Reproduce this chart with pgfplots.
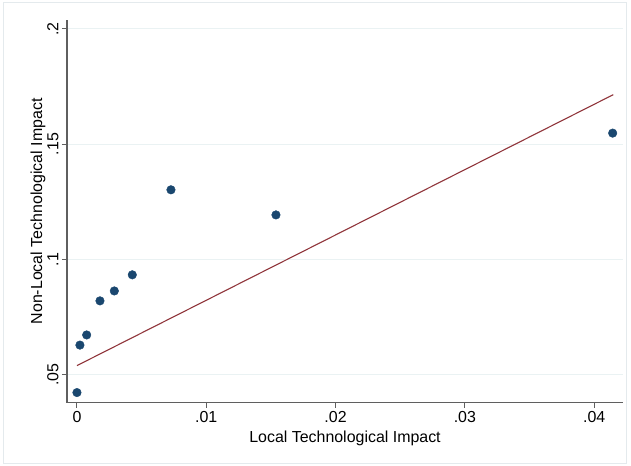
\documentclass[border=0pt]{standalone}
\usepackage{fontspec}
\setmainfont{Liberation Sans}
\usepackage{pgfplots}
\pgfplotsset{compat=1.18}
\definecolor{stnavy}{RGB}{26,71,111}
\definecolor{stmaroon}{RGB}{144,53,59}
\definecolor{stgrid}{RGB}{234,242,243}
\definecolor{staxis}{RGB}{95,95,95}
\definecolor{stframe}{RGB}{228,234,237}
\begin{document}
\begin{tikzpicture}[x=1bp,y=1bp]
\useasboundingbox (-67,-63.3) rectangle (564,402.7);
\draw[stframe, line width=1bp] (-63,-61.3) rectangle (559,399.7);
\begin{axis}[
  at={(0,0)}, anchor=south west,
  scale only axis, width=556bp, height=382.7bp,
  xmin=-0.00077, xmax=0.04223,
  ymin=0.0378, ymax=0.2039,
  scaled x ticks=false, scaled y ticks=false,
  axis x line*=bottom, axis y line*=left,
  axis line style={staxis, line width=1.2bp, -},
  every tick/.style={staxis, line width=1bp},
  tick align=outside, major tick length=5bp,
  xtick={0,0.01,0.02,0.03,0.04},
  xticklabels={0,.01,.02,.03,.04},
  ytick={0.05,0.1,0.15,0.2},
  yticklabels={.05,.1,.15,.2},
  ymajorgrids, major grid style={stgrid, line width=1bp},
  tick label style={font=\fontsize{16}{19}\selectfont},
  label style={font=\fontsize{16}{19}\selectfont},
  yticklabel style={rotate=90, anchor=south},
  xlabel={Local Technological Impact},
  ylabel={Non-Local Technological Impact},
  xlabel style={at={(axis description cs:0.5,-0.0922)}, anchor=center},
  ylabel style={at={(axis description cs:-0.0522,0.5)}, anchor=center},
  clip=false,
]
\addplot[only marks, mark=*, mark size=4.3bp, stnavy, mark options={fill=stnavy, draw=stnavy}] coordinates {
(0,0.0422) (0.00023,0.0628) (0.00075,0.0672) (0.00178,0.0820) (0.00289,0.0863)
(0.00428,0.0933) (0.00727,0.1302) (0.01539,0.1193) (0.04143,0.1548)
};
\addplot[stmaroon, line width=1.1bp, no marks] coordinates {(0,0.0539) (0.04148,0.1715)};
\end{axis}
\end{tikzpicture}
\end{document}
